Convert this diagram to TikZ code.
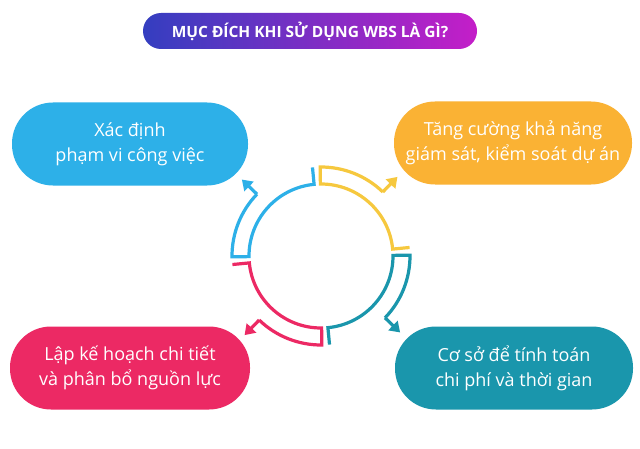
\documentclass[tikz,border=0pt]{standalone}
\usepackage{fontspec}
\setmainfont{Open Sans}
\usetikzlibrary{calc,arrows.meta}
\definecolor{cblue}{RGB}{45,176,232}
\definecolor{corange}{RGB}{250,178,52}
\definecolor{cpink}{RGB}{236,41,100}
\definecolor{cteal}{RGB}{26,150,172}
\definecolor{ryellow}{RGB}{246,200,62}
\definecolor{tleft}{RGB}{52,62,192}
\definecolor{tright}{RGB}{196,30,200}
\tikzset{
  pill/.style={rectangle, rounded corners=41pt, minimum width=238pt, minimum height=83pt,
    inner sep=0pt, text=white, align=center, font=\fontsize{18}{25}\selectfont},
  ring/.style={line width=3.2pt, line join=miter},
  ringarrow/.style={line width=3.2pt, -{Triangle[length=10pt,width=13pt]}}
}
\begin{document}
\begin{tikzpicture}[x=1pt,y=1pt]
\useasboundingbox (0,0) rectangle (640,448);
\fill[white] (0,0) rectangle (640,448);
% title
\node[rectangle, rounded corners=18pt, minimum width=334pt, minimum height=36pt,
  left color=tleft, right color=tright, text=white, inner sep=0pt,
  font=\bfseries\fontsize{15.5}{18}\selectfont] (title) at (310,417) {MỤC ĐÍCH KHI SỬ DỤNG WBS LÀ GÌ?};
% boxes
\node[pill, fill=cblue, minimum width=236pt] (tl) at (130,304) {Xác định\\phạm vi công việc};
\node[pill, fill=corange] (tr) at (513,305) {Tăng cường khả năng\\giám sát, kiểm soát dự án};
\node[pill, fill=cpink, minimum width=240pt] (bl) at (130,80) {Lập kế hoạch chi tiết\\và phân bổ nguồn lực};
\node[pill, fill=cteal] (br) at (514,80) {Cơ sở để tính toán\\chi phí và thời gian};
% ring
\coordinate (c) at (321,192);
\def\ri{72}
\def\ro{89}
\foreach \a/\col in {180/cblue, 90/ryellow, 0/cteal, -90/cpink}{
  \pgfmathsetmacro{\s}{\a-2.5+3}
  \pgfmathsetmacro{\e}{\a-87.5+3}
  \pgfmathsetmacro{\m}{\a-45+1}
  \coordinate (e1) at ($(c)+(\e:\ro)$);
  \coordinate (e2) at ($(c)+(\e:\ri)$);
  \coordinate (s2) at ($(c)+(\s:\ro)$);
  \coordinate (m1) at ($(c)+(\m:\ro)$);
  \coordinate (m2) at ($(c)+(\m:\ro+21)$);
  \draw[ring, draw=\col] (e1) -- (e2) arc[start angle=\e, end angle=\s, radius=\ri] -- (s2)
     arc[start angle=\s, end angle=\m, radius=\ro];
  \draw[ringarrow, draw=\col] (m1) -- (m2);
}
\end{tikzpicture}
\end{document}
